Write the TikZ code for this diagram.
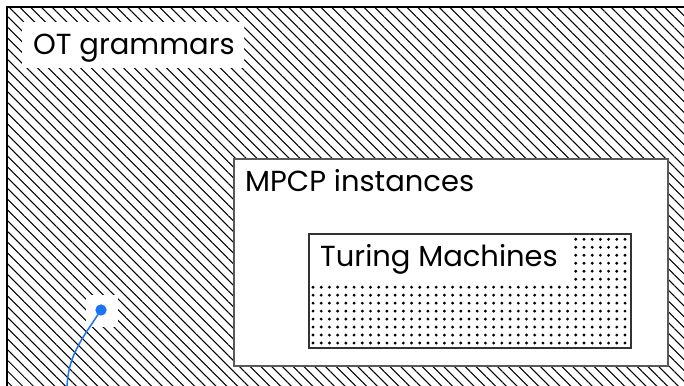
\documentclass[tikz,border=0pt]{standalone}
\usepackage{fontspec}
\setmainfont{Poppins}
\usetikzlibrary{patterns.meta}
\definecolor{dotblue}{HTML}{1A73F5}
\tikzset{
  region/.style={draw, line width=1.4pt, anchor=north west, inner sep=0pt, outer sep=0pt},
  hatched/.style={pattern={Lines[angle=-45, distance=7.6pt, line width=1.05pt]}},
  gridpt/.style={fill=black},
  labelbox/.style={fill=white, anchor=north west, inner sep=0pt, outer sep=0pt},
  labeltext/.style={anchor=base west, inner sep=0pt, font=\fontsize{29}{34}\selectfont},
}
\begin{document}
\begin{tikzpicture}[x=1pt,y=1pt]
\useasboundingbox (0,0) rectangle (684,385);
\clip (0,0) rectangle (684,385);
\fill[white] (0,0) rectangle (684,385);
% outer region
\node[region, hatched, minimum width=700pt, minimum height=400pt] (ot) at (7,378) {};
\node[labelbox, minimum width=222pt, minimum height=46pt] (otbox) at (22,363) {};
\node[labeltext] (otlabel) at (33,330) {OT grammars};
% MPCP region
\node[region, draw=black!65, fill=white, minimum width=434pt, minimum height=207pt] (mpcp) at (234,226) {};
\node[labeltext] (mpcplabel) at (245,193) {MPCP instances};
% Turing machines region
\node[region, draw=black!80, line width=1.1pt, fill=white, minimum width=322pt, minimum height=114pt] (tm) at (309,151) {};
\foreach \i in {0,...,38}{
  \foreach \j in {0,...,13}{
    \fill[gridpt] ({625-8.21*\i},{385-239.3-7.98*\j}) circle (1.6pt);
  }
}
\node[labelbox, minimum width=264pt, minimum height=48pt] (tmbox) at (309.6,150.4) {};
\node[labeltext] (tmlabel) at (320,118) {Turing Machines};
% blue point with curve
\node[fill=white, minimum size=32pt, inner sep=0pt] (ptbox) at (102,74) {};
\node[circle, fill=dotblue, minimum size=11pt, inner sep=0pt] (pt) at (101,75) {};
\coordinate (tail) at (67,-5);
\draw[dotblue, line width=1.5pt] (pt.center) to[out=237, in=90] (tail);
\fill[dotblue] (pt) circle (5.5pt);
\end{tikzpicture}
\end{document}
